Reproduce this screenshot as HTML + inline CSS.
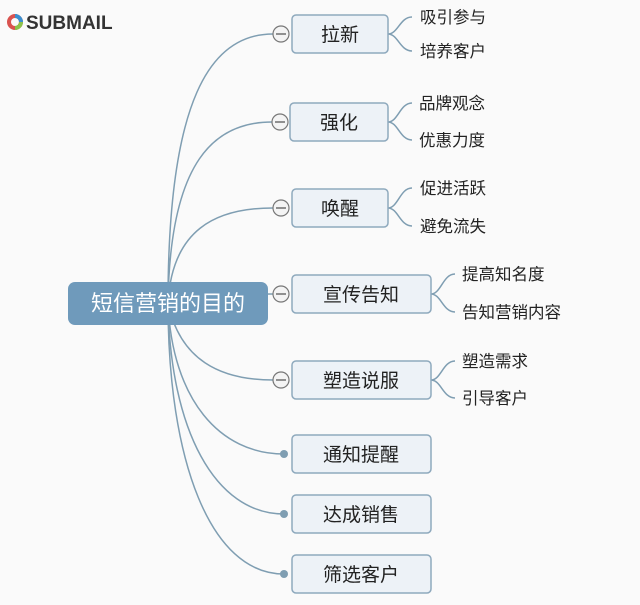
<!DOCTYPE html>
<html><head><meta charset="utf-8"><style>
body{margin:0;background:#fafafa;}
svg text{font-family:"Liberation Sans","Noto Sans CJK SC",sans-serif;}
</style></head><body>
<svg width="640" height="600" viewBox="0 0 640 600" xmlns="http://www.w3.org/2000/svg">
<rect width="640" height="600" fill="#fafafa"/>
<circle cx="15" cy="22" r="6" fill="none" stroke="#d9534f" stroke-width="4"/>
<path d="M15 16 A6 6 0 0 1 21 22" fill="none" stroke="#3a8fd0" stroke-width="4"/>
<path d="M21 22 A6 6 0 0 1 15 28" fill="none" stroke="#8bc34a" stroke-width="4"/>
<text x="26" y="29" font-size="19" fill="#333" font-weight="bold">SUBMAIL</text>
<g fill="none" stroke="#7f9eb2" stroke-width="1.5">
<path d="M168 303 C168 100,210 34,273 34"/>
<path d="M168 303 C170 160,215 122,272 122"/>
<path d="M168 303 C172 230,215 208,273 208"/>
<path d="M168 303 C175 295,220 294,273 294"/>
<path d="M168 303 C180 360,220 380,273 380"/>
<path d="M168 303 C172 400,220 454,284 454"/>
<path d="M168 303 C170 430,215 514,284 514"/>
<path d="M168 303 C168 460,210 574,284 574"/>
<path d="M388 34 C398 34,400 17,412 17 M388 34 C398 34,400 51,412 51"/>
<path d="M388 122 C398 122,400 103,412 103 M388 122 C398 122,400 140,412 140"/>
<path d="M388 208 C398 208,400 188,412 188 M388 208 C398 208,400 226,412 226"/>
<path d="M431 294 C441 294,443 274,455 274 M431 294 C441 294,443 312,455 312"/>
<path d="M431 380 C441 380,443 361,455 361 M431 380 C441 380,443 398,455 398"/>
</g>
<rect x="68" y="282" width="200" height="43" rx="7" fill="#6f9abb"/>
<text x="168" y="311" font-size="22" fill="#fff" text-anchor="middle">短信营销的目的</text>
<g fill="#edf2f7" stroke="#8ea9bd" stroke-width="1.5">
<rect x="292" y="15" width="96" height="38" rx="4"/>
<rect x="290" y="103" width="98" height="38" rx="4"/>
<rect x="292" y="189" width="96" height="38" rx="4"/>
<rect x="292" y="275" width="139" height="38" rx="4"/>
<rect x="292" y="361" width="139" height="38" rx="4"/>
<rect x="292" y="435" width="139" height="38" rx="4"/>
<rect x="292" y="495" width="139" height="38" rx="4"/>
<rect x="292" y="555" width="139" height="38" rx="4"/>
</g>
<g fill="#f4f4f4" stroke="#777" stroke-width="1.2">
<circle cx="281" cy="34" r="8"/><circle cx="280" cy="122" r="8"/><circle cx="281" cy="208" r="8"/>
<circle cx="281" cy="294" r="8"/><circle cx="281" cy="380" r="8"/>
</g>
<g stroke="#555" stroke-width="1.3">
<path d="M276 34h10M275 122h10M276 208h10M276 294h10M276 380h10"/>
</g>
<g fill="#7f9eb2"><circle cx="284" cy="454" r="4"/><circle cx="284" cy="514" r="4"/><circle cx="284" cy="574" r="4"/></g>
<g font-size="19" fill="#222" text-anchor="middle">
<text x="340" y="41">拉新</text><text x="339" y="129">强化</text><text x="340" y="215">唤醒</text>
<text x="361" y="301">宣传告知</text><text x="361" y="387">塑造说服</text><text x="361" y="461">通知提醒</text>
<text x="361" y="521">达成销售</text><text x="361" y="581">筛选客户</text>
</g>
<g font-size="16.5" fill="#222">
<text x="420" y="23">吸引参与</text><text x="420" y="57">培养客户</text>
<text x="419" y="109">品牌观念</text><text x="419" y="146">优惠力度</text>
<text x="420" y="194">促进活跃</text><text x="420" y="232">避免流失</text>
<text x="462" y="280">提高知名度</text><text x="462" y="318">告知营销内容</text>
<text x="462" y="367">塑造需求</text><text x="462" y="404">引导客户</text>
</g>
</svg>
</body></html>
